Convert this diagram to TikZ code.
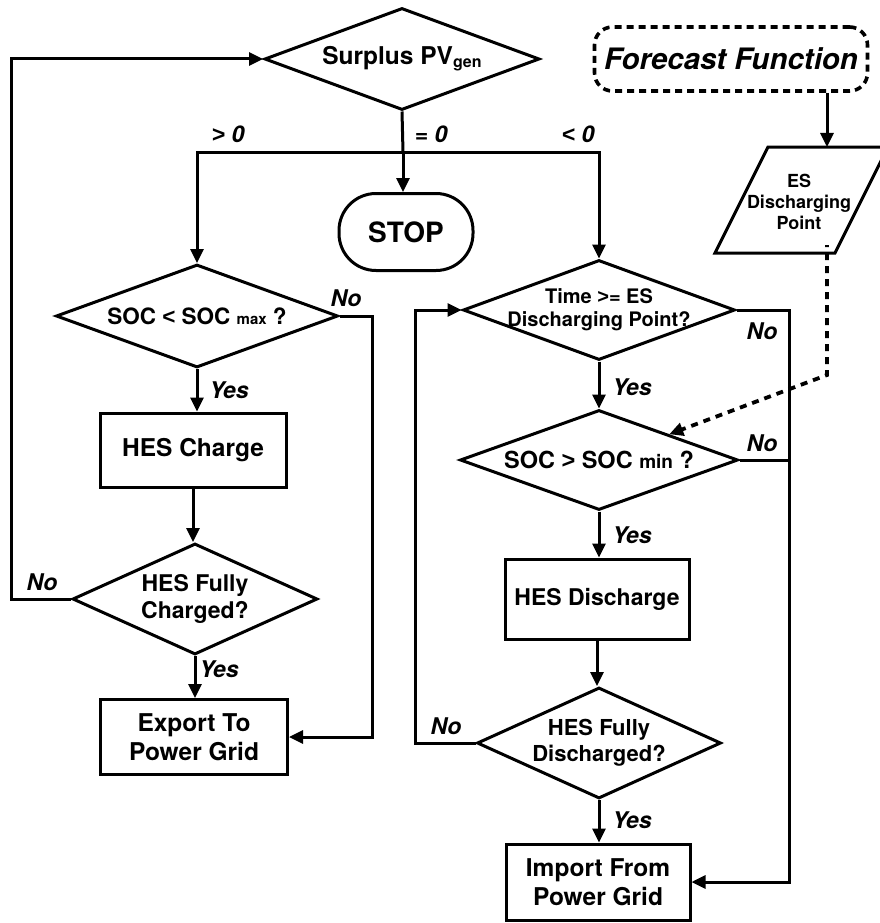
\documentclass[tikz,border=0pt]{standalone}
\usepackage{fontspec}
\setmainfont{TeX Gyre Heros}
\newfontfamily\relfont{Liberation Sans}
\usetikzlibrary{shapes.geometric,arrows.meta,calc}
\newcommand{\fsz}[1]{\fontsize{#1}{#1}\selectfont}
% comparison signs taken from a font with full-height glyphs
\newcommand{\lt}{{\relfont <}}
\newcommand{\gt}{{\relfont >}}
\begin{document}
\begin{tikzpicture}[x=1pt,y=-1pt,
  ln/.style={line width=3pt},
  arr/.style={ln,-{Triangle[length=14pt,width=13pt]}},
  dsh/.style={line width=3.8pt,dash pattern=on 7pt off 6pt,dash phase=5pt,-{Triangle[length=14pt,width=13pt]}},
  dia/.style={draw,diamond,ln,inner sep=0pt},
  dtxt/.style={align=center,inner sep=0pt,font=\fontsize{20}{23}\selectfont\bfseries},
  box/.style={draw,rectangle,ln,align=center,inner sep=0pt,font=\fontsize{24.5}{29}\selectfont\bfseries},
  lbl/.style={inner sep=0pt,font=\fontsize{23}{26}\selectfont\bfseries\itshape}]
\useasboundingbox (0,0) rectangle (880,923);

% decision on the PV surplus
\node[dia,minimum width=275pt,minimum height=102pt,
  label={[dtxt,font=\fsz{24.5}\bfseries]center:Surplus PV\raisebox{-3pt}{\fsz{16}gen}}] (surplus) at (402,59) {};
\node[box,rounded corners=37pt,minimum width=134pt,minimum height=77pt,
  font=\fsz{28}\bfseries] (stop) at (406,232) {STOP};

% forecast input
\node[draw,rectangle,rounded corners=18pt,line width=3.6pt,dash pattern=on 7pt off 5pt,
  minimum width=273pt,minimum height=64pt,inner sep=0pt,
  font=\fsz{29.5}\bfseries\itshape] (fc) at (731,59) {Forecast Function};
\draw[ln] (768,147) -- (888,147) -- (835,253) -- (715,253) -- cycle;
\node[align=center,inner sep=0pt,font=\fontsize{18}{21}\selectfont\bfseries] (es) at (799,202) {ES\\Discharging\\Point};
\coordinate (esin) at (827,147);
\coordinate (esout) at (827,245);
\coordinate (bend) at (827,375);

% charging branch
\node[dia,minimum width=282pt,minimum height=103pt,
  label={[dtxt,font=\fsz{22.5}\bfseries]center:SOC \lt{} SOC {\fsz{15}max} ?}] (socmax) at (197,316) {};
\node[box,minimum width=186pt,minimum height=74pt] (charge) at (193,450) {HES Charge};
\node[dia,minimum width=245pt,minimum height=111pt,
  label={[dtxt,font=\fontsize{23}{27}\selectfont\bfseries]center:HES Fully\\Charged?}] (fullch) at (195,599) {};
\node[box,minimum width=187pt,minimum height=75pt] (exp) at (194,737) {Export To\\Power Grid};

% discharging branch
\node[dia,minimum width=272pt,minimum height=100pt,
  label={[dtxt]center:Time \gt= ES\\Discharging Point?}] (time) at (599,310) {};
\node[dia,minimum width=278pt,minimum height=100pt,
  label={[dtxt,font=\fsz{23.5}\bfseries]center:SOC \gt{} SOC {\fsz{19}min} ?}] (socmin) at (599,460) {};
\node[box,minimum width=184pt,minimum height=80pt,font=\fsz{23}\bfseries] (dis) at (597,599) {HES Discharge};
\node[dia,minimum width=244pt,minimum height=111pt,
  label={[dtxt,font=\fontsize{22}{26}\selectfont\bfseries]center:HES Fully\\Discharged?}] (fulldis) at (599,743) {};
\node[box,minimum width=184pt,minimum height=76pt] (imp) at (598,882) {Import From\\Power Grid};

% three-way split
\coordinate (split) at (403,152);
\draw[ln] (surplus.south) -- (split);
\draw[arr] (split) -- (split |- stop.north);
\draw[arr] (split) -| (socmax.north);
\draw[arr] (split) -| (time.north);

% straight flow arrows
\draw[arr] (socmax.south) -- (socmax.south |- charge.north);
\draw[arr] (charge.south) -- (charge.south |- fullch.north);
\draw[arr] (fullch.south) -- (fullch.south |- exp.north);
\draw[arr] (time.south) -- (time.south |- socmin.north);
\draw[arr] (socmin.south) -- (socmin.south |- dis.north);
\draw[arr] (dis.south) -- (dis.south |- fulldis.north);
\draw[arr] (fulldis.south) -- (fulldis.south |- imp.north);

% return and bypass lines
\coordinate (lx) at (11,0);
\coordinate (mx) at (372,0);
\coordinate (ix) at (415,0);
\coordinate (rx) at (789,0);
\draw[arr] (fullch.west) -- (fullch.west -| lx) |- (surplus.west);
\draw[arr] (socmax.east) -- (socmax.east -| mx) |- (exp.east);
\draw[arr] (time.east) -- (time.east -| rx) |- (imp.east);
\draw[ln] (socmin.east) -- (socmin.east -| rx);
\draw[arr] (fulldis.west) -- (fulldis.west -| ix) |- (time.west);

% forecast links
\draw[arr] (fc.south -| esin) -- (esin);
\coordinate (tgt) at ($(socmin.north)!0.5!(socmin.east)$);
\draw[dsh] (esout) -- (bend) -- (tgt);

% branch labels
\node[lbl] (lgt) at (228,134) {\gt{} 0};
\node[lbl] (leq) at (431,134) {= 0};
\node[lbl] (llt) at (578,134) {\lt{} 0};
\node[lbl] (no1) at (346,298) {No};
\node[lbl] (yes1) at (229,390) {Yes};
\node[lbl] (no2) at (42,582) {No};
\node[lbl] (yes2) at (219,669) {Yes};
\node[lbl] (no3) at (762,331) {No};
\node[lbl] (yes3) at (632,387) {Yes};
\node[lbl] (no4) at (762,443) {No};
\node[lbl] (yes4) at (632,535) {Yes};
\node[lbl] (no5) at (446,726) {No};
\node[lbl] (yes5) at (632,820) {Yes};
\end{tikzpicture}
\end{document}
